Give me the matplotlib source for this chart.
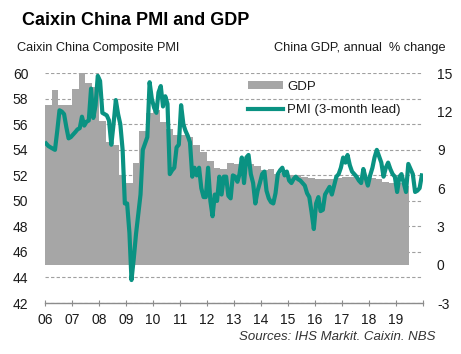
import numpy as np
import pandas as pd
import matplotlib
matplotlib.use("Agg")
import matplotlib.pyplot as plt
import matplotlib.dates as mdates
from matplotlib.patches import Patch
from matplotlib.lines import Line2D

plt.rcParams['font.family'] = ['Liberation Sans', 'DejaVu Sans']
plt.rcParams['axes.unicode_minus'] = False

### Colours
teal = '#0A9282'
grey_bar = '#A6A6A6'
grid_col = '#A0A0A0'
txt = '#1A1A1A'

### Data
# quarterly GDP, annual % change (2006 Q1 - 2019 Q2)
gdp = [12.5, 13.7, 12.5, 12.5,
       13.8, 15.0, 14.2, 13.9,
       11.3, 9.6, 9.4, 7.0,
       6.4, 8.0, 10.5, 11.9,
       12.1, 11.2, 10.6, 10.2,
       10.2, 10.0, 9.4, 8.8,
       8.1, 7.6, 7.5, 8.0,
       7.9, 7.6, 7.9, 7.7,
       7.4, 7.5, 7.1, 7.2,
       7.0, 7.0, 6.9, 6.8,
       6.7, 6.7, 6.7, 6.8,
       6.9, 6.9, 6.8, 6.8,
       6.8, 6.7, 6.5, 6.4,
       6.4, 6.2]
gdp_start = '2006-01-01'

# Caixin composite PMI, shifted forward 3 months (Jan 2006 - Dec 2019)
pmi = [54.5, 54.3, 54.2, 54.1, 54.0, 55.5, 57.1, 57.0, 56.8, 55.8, 54.9, 55.0,
       55.2, 55.4, 55.6, 55.7, 56.6, 55.9, 56.2, 56.3, 58.8, 56.5, 57.5, 59.8,
       59.4, 56.9, 56.8, 56.7, 56.3, 54.4, 56.0, 57.9, 56.8, 56.0, 54.0, 49.8,
       49.8, 47.5, 43.8, 45.5, 47.4, 49.0, 50.5, 54.0, 54.5, 55.0, 59.3, 58.0,
       57.3, 56.9, 58.5, 59.0, 57.4, 58.2, 57.6, 52.1, 52.4, 52.6, 54.2, 54.4,
       57.5, 56.0, 55.5, 55.1, 54.6, 51.9, 52.6, 52.0, 52.6, 51.0, 50.3, 50.3,
       52.6, 50.0, 48.8, 50.5, 50.0, 51.9, 50.5, 51.9, 51.9, 50.4, 50.2, 52.0,
       51.9, 51.5, 52.1, 53.4, 51.4, 53.4, 53.6, 52.1, 51.4, 49.8, 50.8, 51.4,
       52.1, 52.3, 50.8, 50.2, 49.9, 49.8, 50.6, 52.1, 52.4, 52.6, 52.0, 52.3,
       51.6, 51.4, 51.7, 51.9, 51.7, 51.6, 51.4, 51.2, 50.6, 50.3, 49.1, 47.8,
       49.8, 50.3, 49.2, 49.3, 50.5, 50.8, 51.1, 50.5, 51.2, 51.9, 52.1, 52.6,
       53.4, 53.0, 53.6, 52.8, 52.3, 52.1, 51.9, 51.6, 51.4, 52.5, 51.8, 51.2,
       52.0, 52.6, 53.4, 54.0, 53.5, 53.0, 51.9, 52.6, 53.0, 52.5, 52.1, 51.9,
       50.7, 51.9, 52.1, 51.4, 50.7, 52.9, 52.5, 52.1, 50.7, 50.8, 51.0, 52.0]
pmi_start = '2006-01-01'

years = list(range(2006, 2021))
year_labels = ['06', '07', '08', '09', '10', '11', '12', '13', '14', '15',
               '16', '17', '18', '19', '']
pmi_ticks = [42, 44, 46, 48, 50, 52, 54, 56, 58, 60]
gdp_ticks = [-3, 0, 3, 6, 9, 12, 15]

q_edges = pd.date_range(gdp_start, periods=len(gdp) + 1, freq='QS')
q_start = mdates.date2num(q_edges[:-1])
q_width = np.diff(mdates.date2num(q_edges))

m_dates = pd.date_range(pmi_start, periods=len(pmi), freq='MS') + pd.Timedelta(days=15)

### Figure
fig = plt.figure(figsize=(4.61, 3.54), dpi=100)
ax = fig.add_axes([0.0976, 0.144, 0.82, 0.649])

# left axis: PMI, carries the grid
ax.set_ylim(42, 60)
ax.set_yticks(pmi_ticks)
ax.yaxis.grid(True, ls=(0, (3, 2)), color=grid_col, lw=0.8)
ax.set_axisbelow(True)

# right axis: GDP bars
ax2 = ax.twinx()
ax2.bar(q_start, gdp, width=q_width, align='edge', color=grey_bar, lw=0, zorder=2)
ax2.set_ylim(-3, 15)
ax2.set_yticks(gdp_ticks)

# top layer: PMI line on the PMI scale
ax3 = ax.twinx()
ax3.plot(m_dates, pmi, color=teal, lw=3.0, solid_joinstyle='round', zorder=3)
ax3.set_ylim(42, 60)
ax3.set_yticks([])

xmin = mdates.date2num(pd.Timestamp('2006-01-01'))
xmax = mdates.date2num(pd.Timestamp('2020-01-01'))
for a in (ax, ax2, ax3):
    a.set_xlim(xmin, xmax)
    for s in a.spines.values():
        s.set_visible(False)

ax.spines['bottom'].set_visible(True)
ax.spines['bottom'].set_color('#8C8C8C')
ax.spines['bottom'].set_linewidth(1.0)
ax.set_xticks(mdates.date2num([pd.Timestamp(f'{y}-01-01') for y in years]))
ax.set_xticklabels(year_labels)
ax.tick_params(axis='x', direction='inout', length=5, color='#8C8C8C', labelsize=10,
               labelcolor=txt, pad=5)
ax.tick_params(axis='y', length=0, labelsize=10, labelcolor=txt, pad=12)
ax2.tick_params(axis='y', length=0, labelsize=10, labelcolor=txt, pad=10)

# legend
handles = [Patch(color=grey_bar, lw=0), Line2D([], [], color=teal, lw=3.0)]
leg = ax3.legend(handles, ['GDP', 'PMI (3-month lead)'], loc='upper left',
                 bbox_to_anchor=(0.505, 1.02), frameon=False, fontsize=9.5,
                 handlelength=2.7, handleheight=0.6, handletextpad=0.3, labelspacing=0.9)
for t in leg.get_texts():
    t.set_color(txt)

fig.text(0.048, 0.943, 'Caixin China PMI and GDP', fontsize=13, fontweight='bold',
         color='black', va='center')
fig.text(0.037, 0.864, 'Caixin China Composite PMI', fontsize=9.2, color=txt, va='center')
fig.text(0.966, 0.864, 'China GDP, annual  % change', fontsize=9.2, color=txt,
         va='center', ha='right')
fig.text(0.944, 0.048, 'Sources: IHS Markit. Caixin. NBS', fontsize=9.5, style='italic',
         color='#333333', va='center', ha='right')

fig.savefig('out.png', dpi=100)
